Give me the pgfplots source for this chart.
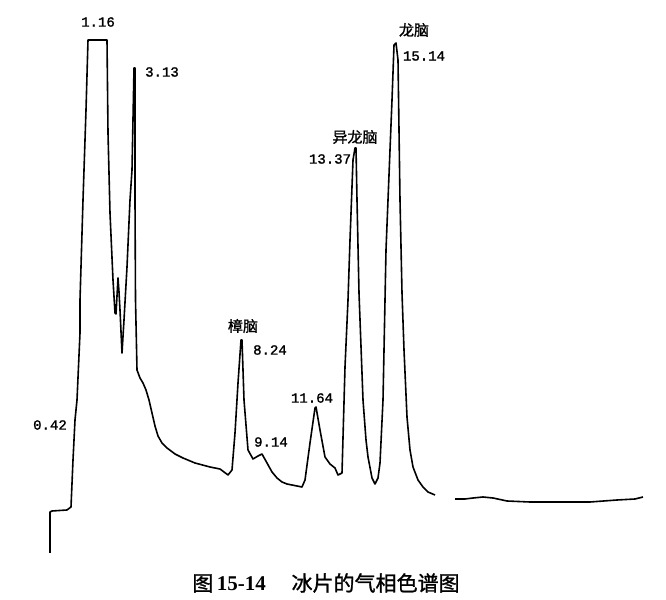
\documentclass[border=0pt]{standalone}
\usepackage{fontspec}
\usepackage{pgfplots}
\pgfplotsset{compat=1.18}
\setmainfont{Liberation Serif}
\newfontfamily\cjk{Noto Sans CJK SC}
\newfontfamily\cjkb[FakeBold=1.2]{Noto Sans CJK SC}
\newfontfamily\num[FakeBold=1.5]{Liberation Mono}
\begin{document}
\begin{tikzpicture}
\begin{axis}[
  scale only axis, width=666bp, height=600bp,
  xmin=0, xmax=666, ymin=0, ymax=600, y dir=reverse,
  axis lines=none, clip=false,
]
\path (axis cs:0,0) rectangle (axis cs:666,600);
\addplot[black, line width=1.6bp, line join=round] coordinates {
(50,553) (50,512) (52,511) (67,510) (71,507) (73,460) (75,420) (77,400)
(80,333) (80,300) (83,200) (86,110) (88,40) (107,40) (108,133) (110,213)
(113,280) (115,313) (116,314) (118,278) (119,292) (120,310) (122,353)
(124,320) (127,267) (130,200) (132,170) (134,68) (135,68) (135,200)
(135.5,300) (137,370) (140,378) (143,383) (146,390) (149,400) (152,413)
(155,426) (158,436) (162,443) (167,448) (175,454) (183,458) (195,463)
(210,467) (220,469) (228,475) (232,470) (235,433) (238,383)
(241,340) (242,340) (244,400) (248,450) (253,459) (258,456) (262,454)
(267,463) (272,472) (277,478) (282,482) (287,484) (302,487) (305,480)
(310,443) (315,408) (316,407) (320,430) (325,457) (330,464) (335,468)
(338,475) (342,473) (345,367) (348,300)
(350,240) (353,160) (355,148) (356,148) (357,200) (359,293) (363,400)
(366,440) (368,457) (372,478) (375,484) (378,478) (380,463) (383,400) (385,300)
(386,250) (392,100) (394,45) (396,43) (398,60) (400,200) (402,293)
(404,350) (407,417) (410,450) (413,467) (418,480) (423,487) (428,492)
(435,495)
};
\addplot[black, line width=1.6bp, line join=round] coordinates {
(455,499) (465,499) (473,498) (483,497) (493,498) (507,501) (530,502)
(567,502) (590,502) (617,500) (635,499) (643,497)
};
\tikzset{lab/.style={font=\num\fontsize{14bp}{14bp}\selectfont, inner sep=0pt},
         clab/.style={font=\cjkb\fontsize{15bp}{15bp}\selectfont, inner sep=0pt}}
\node[lab] at (axis cs:98,22) {1.16};
\node[lab] at (axis cs:162,72) {3.13};
\node[lab] at (axis cs:50,425) {0.42};
\node[clab] at (axis cs:243,326) {樟脑};
\node[lab] at (axis cs:270,350) {8.24};
\node[lab] at (axis cs:271,442) {9.14};
\node[lab] at (axis cs:312,398) {11.64};
\node[clab] at (axis cs:355,137) {异龙脑};
\node[lab] at (axis cs:330,159) {13.37};
\node[clab] at (axis cs:414,30) {龙脑};
\node[lab] at (axis cs:424,56) {15.14};
\node[inner sep=0pt] at (axis cs:326,583) {\cjkb\fontsize{21bp}{21bp}\selectfont 图\,{\rmfamily\bfseries 15-14}\quad\ 冰片的气相色谱图};
\end{axis}
\end{tikzpicture}
\end{document}
